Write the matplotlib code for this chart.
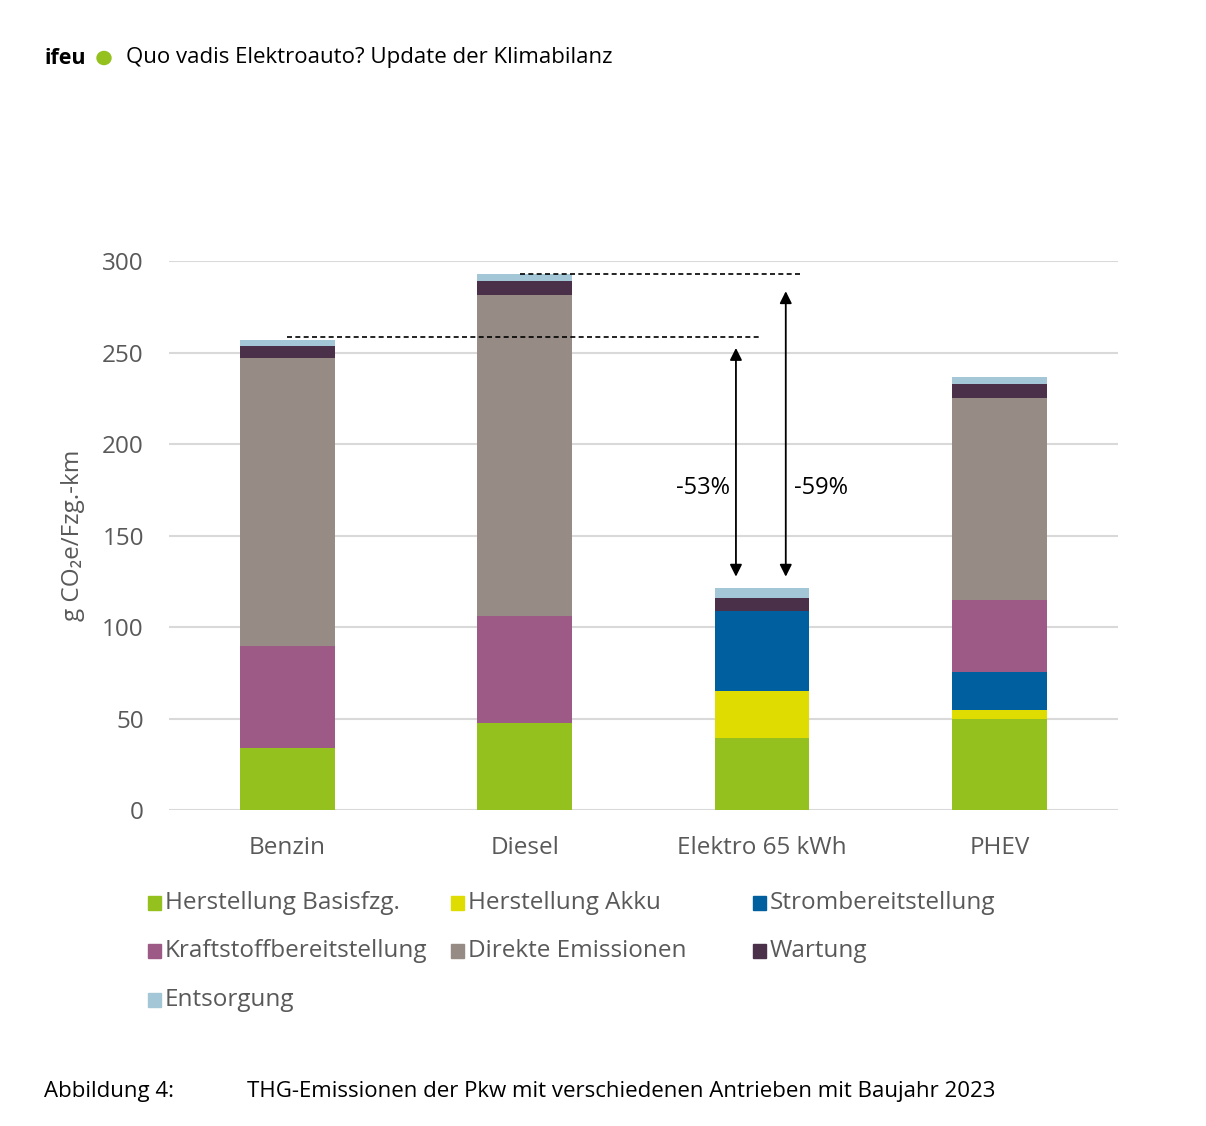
import matplotlib.pyplot as plt
from matplotlib.patches import Rectangle, Circle
import numpy as np

# Data (g CO2e per vehicle-km)
categories = ["Benzin", "Diesel", "Elektro 65 kWh", "PHEV"]
components = ["Herstellung Basisfzg.", "Herstellung Akku", "Strombereitstellung",
              "Kraftstoffbereitstellung", "Direkte Emissionen", "Wartung", "Entsorgung"]
herstellung_basis = [34, 47.5, 39.5, 49.5]
herstellung_akku = [0, 0, 25.5, 5]
strom = [0, 0, 44, 21]
kraftstoff = [55.5, 58.5, 0, 39.5]
direkt = [157.5, 175.5, 0, 110]
wartung = [6.5, 7.5, 7, 8]
entsorgung = [3.5, 4, 5.5, 3.5]
colors = ["#95C11F", "#DEDC00", "#005F9E", "#9E5A87", "#978B85", "#4A3049", "#A3C7D6"]

# Reduction annotations
reductions = ["-53%", "-59%"]

series = [herstellung_basis, herstellung_akku, strom, kraftstoff, direkt, wartung, entsorgung]

plt.rcParams['font.family'] = ['Open Sans', 'DejaVu Sans']
fig = plt.figure(figsize=(12.06, 11.26), dpi=100)
ax = fig.add_axes([0.140, 0.2806, 0.787, 0.4876])

x = np.arange(len(categories))
bottom = np.zeros(len(categories))
for vals, col in zip(series, colors):
    ax.bar(x, vals, width=0.4, bottom=bottom, color=col, zorder=3)
    bottom += np.array(vals)

totals = bottom
ax.set_xlim(-0.5, 3.5)
ax.set_ylim(0, 300)
ax.set_yticks(range(0, 301, 50))
ax.yaxis.grid(True, color="#D9D9D9", linewidth=1.5, zorder=0)
ax.set_axisbelow(True)
for s in ax.spines.values():
    s.set_visible(False)
ax.tick_params(axis="both", length=0, labelsize=17.5, colors="#595959", pad=18)
ax.tick_params(axis="x", pad=19)
ax.set_xticks(x)
ax.set_xticklabels(categories)
ax.set_ylabel("g CO₂e/Fzg.-km", fontsize=17.5, color="#595959", labelpad=12)

# dashed reference lines at Benzin and Diesel totals
ax.plot([0.0, 2.0], [totals[0] + 1.5, totals[0] + 1.5], ls=(0, (3, 2)), color="black", lw=1.2, zorder=4)
ax.plot([0.98, 2.17], [totals[1], totals[1]], ls=(0, (3, 2)), color="black", lw=1.2, zorder=4)

# double arrows
arrow_kw = dict(arrowstyle="<|-|>", color="black", lw=1.3, mutation_scale=18)
ax.annotate("", xy=(1.89, totals[2] + 4.5), xytext=(1.89, totals[0] - 3), arrowprops=arrow_kw)
ax.annotate("", xy=(2.10, totals[2] + 4.5), xytext=(2.10, totals[1] - 8), arrowprops=arrow_kw)
ax.text(1.75, 176, reductions[0], ha="center", va="center", fontsize=17, color="black")
ax.text(2.25, 176, reductions[1], ha="center", va="center", fontsize=17, color="black")

# legend, laid out in rows like the original
leg_cols = [148, 451, 753]
leg_rows = [903, 951, 1000]
W, H = 1206, 1126
for i, (name, col) in enumerate(zip(components, colors)):
    r, c = divmod(i, 3)
    px, py = leg_cols[c], leg_rows[r]
    fig.add_artist(Rectangle((px / W, 1 - (py + 7) / H), 13 / W, 14 / H,
                             transform=fig.transFigure, color=col))
    fig.text((px + 17) / W, 1 - py / H, name, fontsize=17.5, color="#595959", va="center", ha="left")

# header and caption
fig.text(44 / W, 1 - 58 / H, "ifeu", fontsize=15.5, fontweight="bold", va="center", ha="left")
fig.add_artist(Circle((104 / W, 1 - 58 / H), 7 / W, transform=fig.transFigure, color="#95C11F"))
fig.text(126 / W, 1 - 58 / H, "Quo vadis Elektroauto? Update der Klimabilanz", fontsize=16,
         va="center", ha="left")
fig.text(44 / W, 1 - 1091 / H, "Abbildung 4:", fontsize=16, va="center", ha="left")
fig.text(247 / W, 1 - 1091 / H, "THG-Emissionen der Pkw mit verschiedenen Antrieben mit Baujahr 2023",
         fontsize=16, va="center", ha="left")

fig.savefig("out.png", dpi=100)
